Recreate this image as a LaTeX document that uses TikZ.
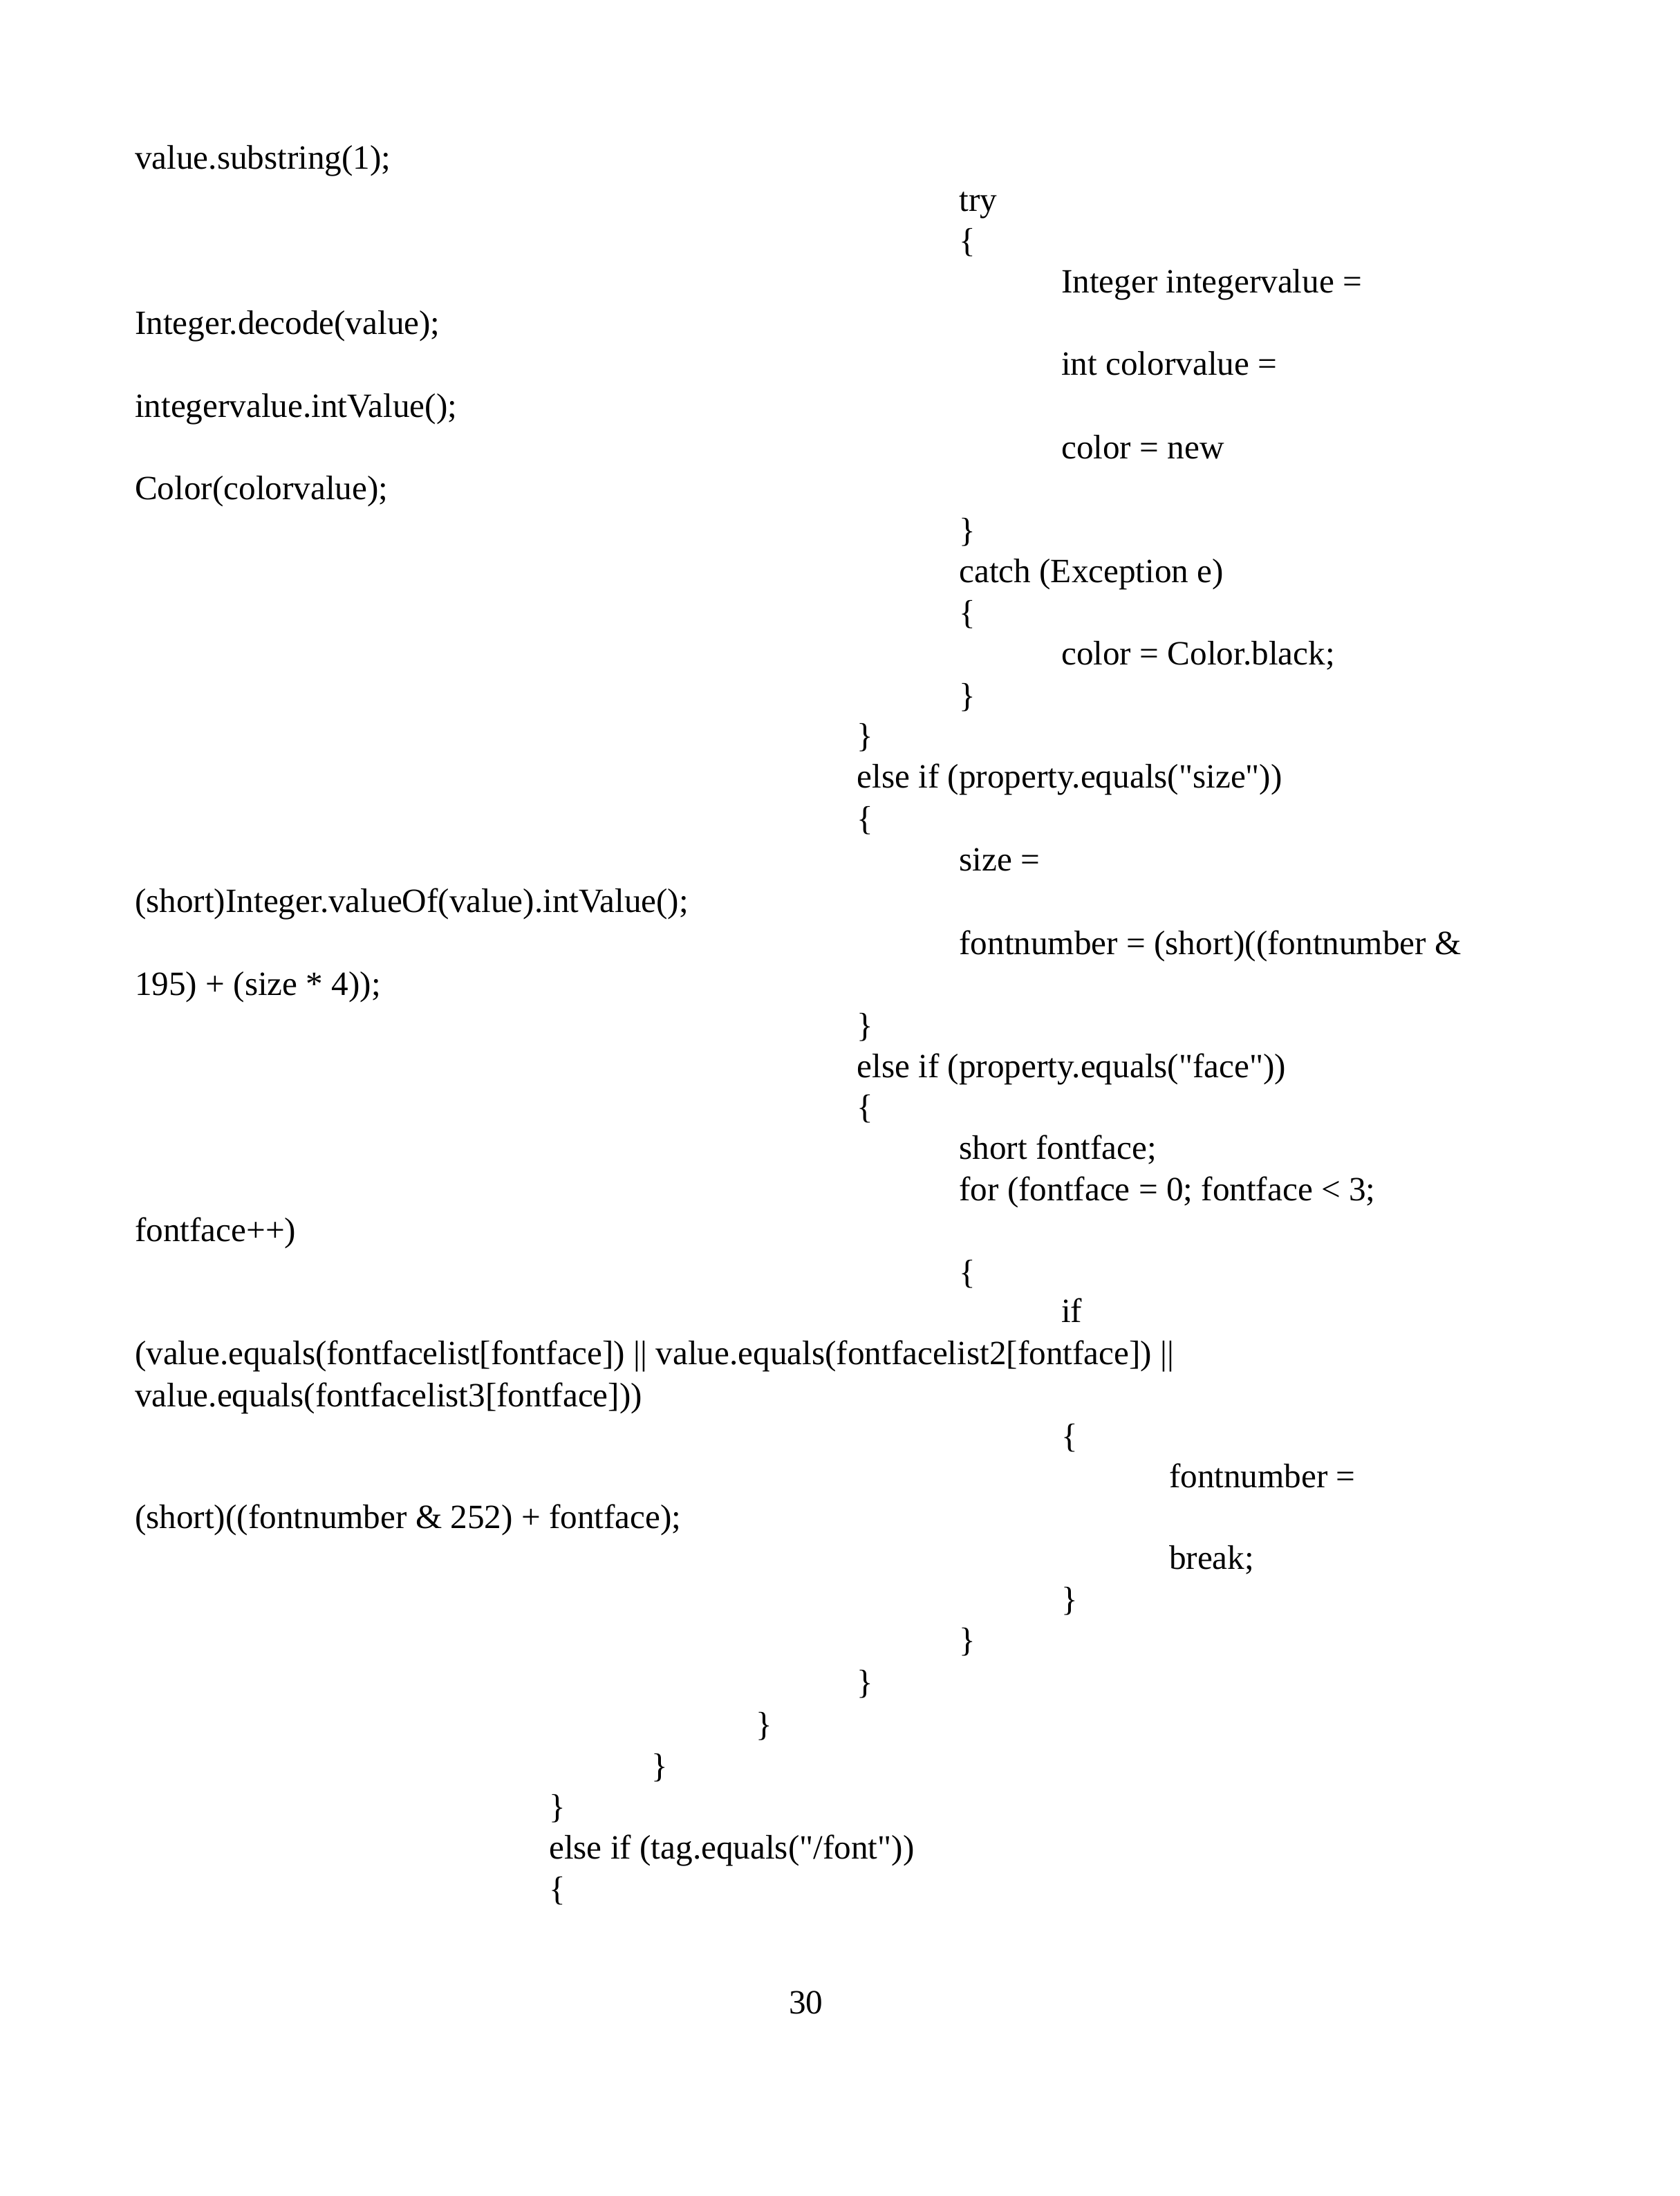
\documentclass[tikz,border=0pt]{standalone}
\usepackage{fontspec}
\setmainfont{Liberation Serif}
\newcommand{\q}{\XeTeXglyph\XeTeXcharglyph"22\relax}
\begin{document}
\begin{tikzpicture}[x=0.51pt,y=-0.51pt,every node/.style={anchor=base west,inner sep=0pt,font=\fontsize{12.4}{14}\selectfont}]
\useasboundingbox[fill=white] (0,0) rectangle (1200,1569);
\def\L#1#2#3{\node at (#1,#2+8) {#3};}
\L{96}{113}{value.substring(1);}
\L{685}{143}{try}
\L{685}{172}{\{}
\L{758}{201}{Integer integervalue =}
\L{96}{231}{Integer.decode(value);}
\L{758}{260}{int colorvalue =}
\L{96}{290}{integervalue.intValue();}
\L{758}{320}{color = new}
\L{96}{349}{Color(colorvalue);}
\L{685}{379}{\}}
\L{685}{408}{catch (Exception e)}
\L{685}{438}{\{}
\L{758}{467}{color = Color.black;}
\L{685}{497}{\}}
\L{612}{526}{\}}
\L{612}{555}{else if (property.equals(\q size\q))}
\L{612}{585}{\{}
\L{685}{614}{size =}
\L{96}{644}{(short)Integer.valueOf(value).intValue();}
\L{685}{674}{fontnumber = (short)((fontnumber \&}
\L{96}{703}{195) + (size * 4));}
\L{612}{733}{\}}
\L{612}{762}{else if (property.equals(\q face\q))}
\L{612}{791}{\{}
\L{685}{820}{short fontface;}
\L{685}{850}{for (fontface = 0; fontface < 3;}
\L{96}{879}{fontface++)}
\L{685}{909}{\{}
\L{758}{937}{if}
\L{96}{967}{(value.equals(fontfacelist[fontface]) || value.equals(fontfacelist2[fontface]) ||}
\L{96}{997}{value.equals(fontfacelist3[fontface]))}
\L{758}{1026}{\{}
\L{835}{1055}{fontnumber =}
\L{96}{1084}{(short)((fontnumber \& 252) + fontface);}
\L{835}{1113}{break;}
\L{758}{1143}{\}}
\L{685}{1172}{\}}
\L{612}{1202}{\}}
\L{540}{1232}{\}}
\L{465}{1262}{\}}
\L{392}{1291}{\}}
\L{392}{1320}{else if (tag.equals(\q/font\q))}
\L{392}{1350}{\{}
\node[anchor=base] at (576,1439) {30};
\end{tikzpicture}
\end{document}
